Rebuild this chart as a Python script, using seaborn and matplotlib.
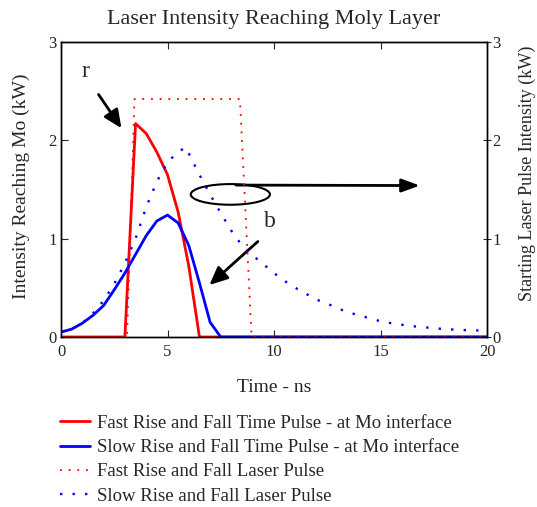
import numpy as np
import pandas as pd
import matplotlib
matplotlib.use("Agg")
import matplotlib.pyplot as plt
import seaborn as sns
from matplotlib.patches import Ellipse

# ---- data ----
fast_x = [0, 3.0, 3.5, 4.0, 4.5, 5.0, 5.5, 6.0, 6.5, 20]
fast_y = [0, 0, 2.17, 2.07, 1.88, 1.65, 1.27, 0.72, 0.0, 0.0]

slow_x = [0, 0.5, 1.0, 1.5, 2.0, 2.5, 3.0, 3.5, 4.0, 4.5, 5.0, 5.5, 6.0, 6.5, 7.0, 7.5, 20]
slow_y = [0.05, 0.08, 0.14, 0.22, 0.32, 0.48, 0.65, 0.84, 1.03, 1.18, 1.24, 1.16, 0.93, 0.55, 0.15, 0.0, 0.0]

fast_laser_x = [0, 3.1, 3.45, 8.4, 8.95, 20]
fast_laser_y = [0, 0, 2.42, 2.42, 0, 0]

slow_laser_x = [0, 0.5, 1.0, 1.5, 2.0, 2.5, 3.0, 3.5, 4.0, 4.5, 5.0, 5.5, 5.85, 6.5, 7.0, 7.5,
                8.0, 8.5, 9.0, 9.5, 10, 10.5, 11, 11.5, 12, 12.5, 13, 13.5, 14, 14.5, 15,
                15.5, 16, 16.5, 17, 17.5, 18, 18.5, 19, 19.5, 20]
slow_laser_y = [0.05, 0.08, 0.14, 0.24, 0.37, 0.54, 0.75, 1.0, 1.32, 1.58, 1.78, 1.88, 1.93, 1.65, 1.45, 1.26,
                1.08, 0.93, 0.83, 0.74, 0.65, 0.57, 0.50, 0.44, 0.38, 0.34, 0.29, 0.25, 0.22, 0.19, 0.16,
                0.14, 0.125, 0.11, 0.10, 0.09, 0.08, 0.075, 0.07, 0.067, 0.065]

labels = ["Fast Rise and Fall Time Pulse - at Mo interface",
          "Slow Rise and Fall Time Pulse - at Mo interface",
          "Fast Rise and Fall Laser Pulse",
          "Slow Rise and Fall Laser Pulse"]

x_ticks = [0, 5, 10, 15, 20]
y_ticks = [0, 1, 2, 3]

sns.set_style("white")
plt.rcParams['font.family'] = ['Liberation Serif', 'DejaVu Serif']

fig = plt.figure(figsize=(5.37, 5.07), dpi=100)
ax = fig.add_axes([61/537, 1-337/507, (487-61)/537, (337-42)/507])
ax2 = ax.twinx()

df_fast = pd.DataFrame({"t": fast_x, "v": fast_y})
df_slow = pd.DataFrame({"t": slow_x, "v": slow_y})
df_fl = pd.DataFrame({"t": fast_laser_x, "v": fast_laser_y})
df_sl = pd.DataFrame({"t": slow_laser_x, "v": slow_laser_y})

sns.lineplot(data=df_fast, x="t", y="v", ax=ax, color="#ff0000", lw=2, label=labels[0], legend=False)
sns.lineplot(data=df_slow, x="t", y="v", ax=ax, color="#0000ff", lw=2, label=labels[1], legend=False)
sns.lineplot(data=df_fl, x="t", y="v", ax=ax2, color="#ff0000", lw=1.3, linestyle=(0, (1, 3.8)), label=labels[2], legend=False)
sns.lineplot(data=df_sl, x="t", y="v", ax=ax2, color="#0000ff", lw=1.7, linestyle=(0, (1, 4.3)), label=labels[3], legend=False)

for a in (ax, ax2):
    a.set_xlim(0, 20)
    a.set_ylim(0, 3)
    a.set_yticks(y_ticks)
    for s in a.spines.values():
        s.set_color("black")
        s.set_linewidth(1.0)

ax.set_xticks(x_ticks)
ax.set_xlabel("Time - ns", fontsize=14, labelpad=14)
ax.set_ylabel("Intensity Reaching Mo (kW)", fontsize=14)
ax.yaxis.set_label_coords(-0.073, 0.51)
ax2.set_ylabel("Starting Laser Pulse Intensity (kW)", fontsize=13)
ax2.yaxis.set_label_coords(1.075, 0.556)
ax.set_title("Laser Intensity Reaching Moly Layer", fontsize=16, pad=13)

ax.tick_params(axis="both", direction="in", labelsize=12, length=5, top=True, bottom=True, left=True, right=False, pad=3)
ax2.tick_params(axis="y", direction="inout", labelsize=12, length=6, pad=1)
ax.tick_params(axis="x", pad=5)

# annotations
arrow = dict(arrowstyle="-|>,head_length=1.1,head_width=0.5", color="black", lw=2)
ax.text(1.13, 2.70, "r", fontsize=17, ha="center", va="center")
ax.annotate("", xy=(2.91, 2.10), xytext=(1.69, 2.49), arrowprops=arrow)
ax.text(9.81, 1.17, "b", fontsize=17, ha="center", va="center")
ax.annotate("", xy=(6.87, 0.51), xytext=(9.34, 0.99), arrowprops=arrow)
ax.add_patch(Ellipse((7.95, 1.45), 3.72, 0.21, fill=False, edgecolor="black", lw=1.5))
ax.annotate("", xy=(16.98, 1.54), xytext=(8.08, 1.545),
            arrowprops=dict(arrowstyle="-|>,head_length=1.1,head_width=0.4", color="black", lw=2))

h1, l1 = ax.get_legend_handles_labels()
h2, l2 = ax2.get_legend_handles_labels()
fig.legend(h1 + h2, l1 + l2, loc="upper left", bbox_to_anchor=(0.08, 0.215), frameon=False,
           fontsize=13.5, handlelength=1.6, labelspacing=0.38, handletextpad=0.38)

fig.savefig("out.png", dpi=100)
